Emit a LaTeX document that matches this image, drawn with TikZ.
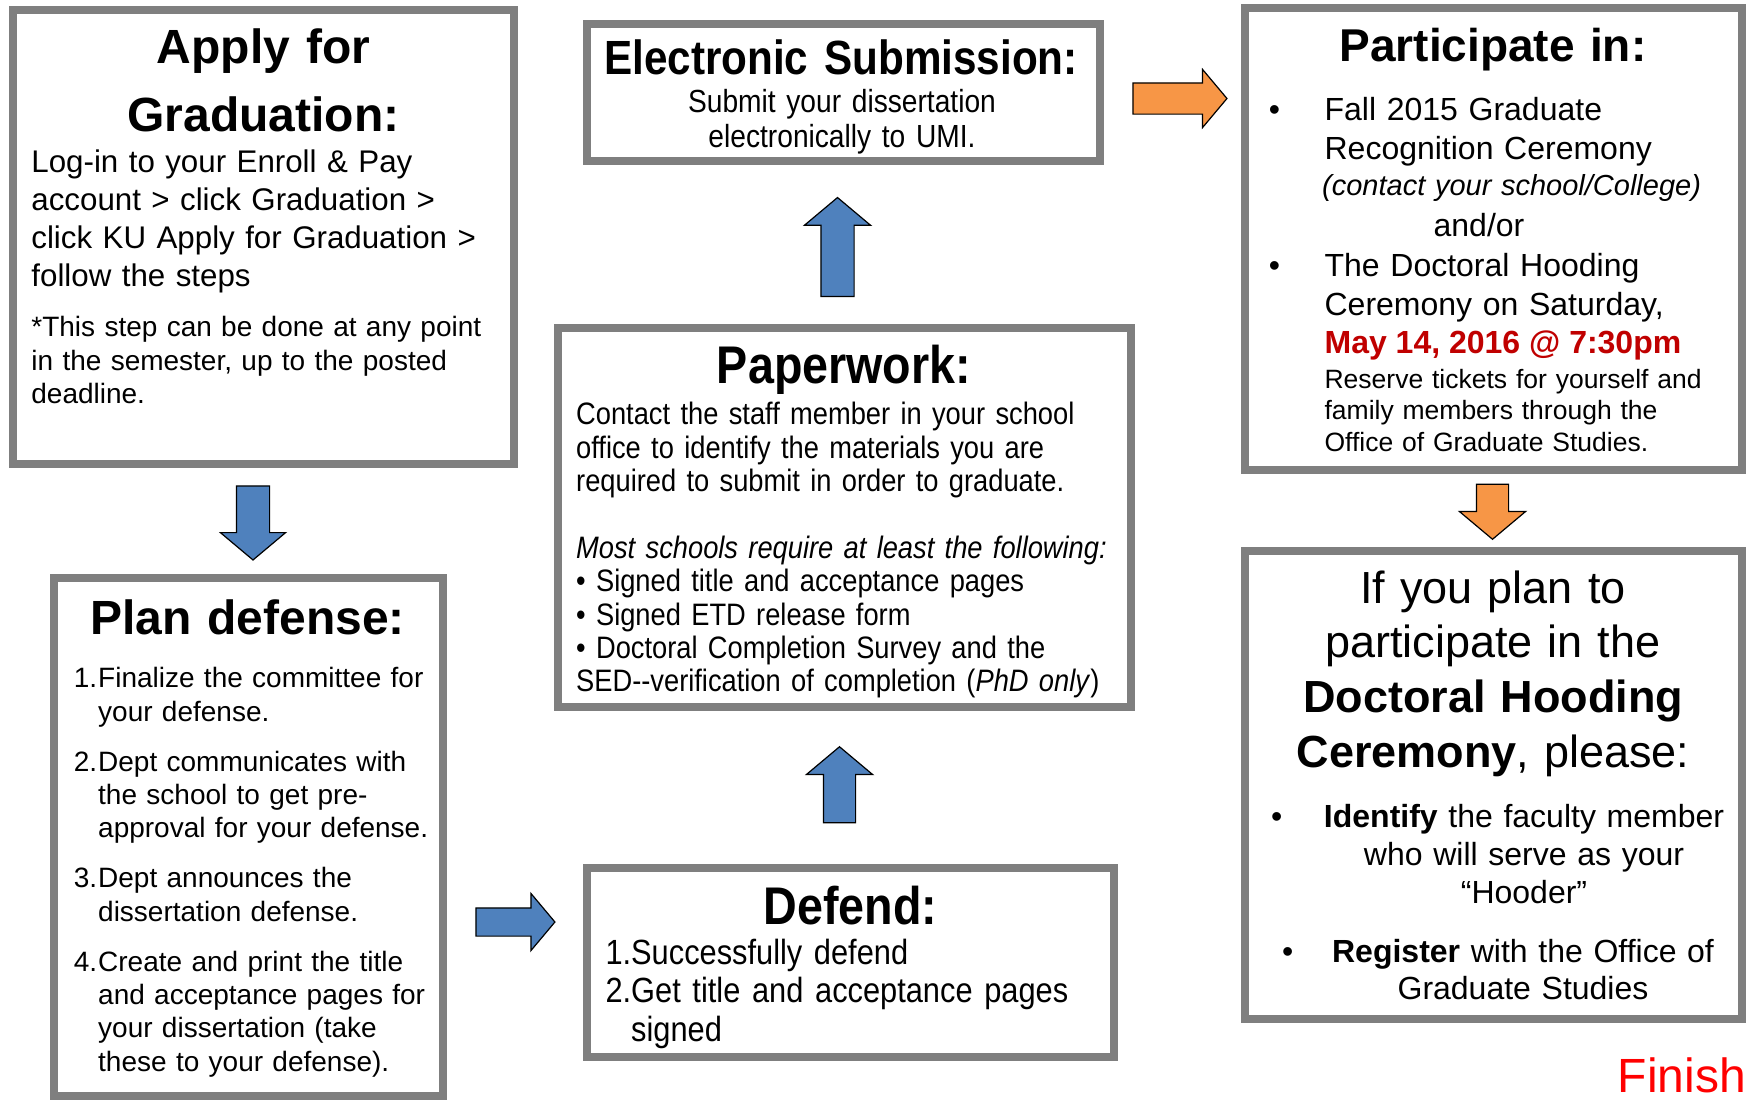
\documentclass[tikz,border=0pt]{standalone}
\usepackage{fontspec}
\setmainfont{Liberation Sans}
\newfontfamily\narrowfont{Liberation Sans}[FakeStretch=0.88]
\usetikzlibrary{shapes.arrows,shadows}
\definecolor{frameGray}{HTML}{7F7F7F}
\definecolor{stepBlue}{HTML}{4F81BD}
\definecolor{stepOrange}{HTML}{F79646}
\definecolor{dateRed}{HTML}{C00000}
\newcommand{\frameW}{8pt}
\newcommand{\numW}{24.4pt}
\newcommand{\fsz}[2]{\fontsize{#1}{#2}\selectfont}
\newcommand{\itemno}[1]{\makebox[\numW][l]{#1}}
\newcommand{\itemgo}{\hspace*{\numW}}
\tikzset{
  stepbox/.style={rectangle, draw=frameGray, line width=\frameW, fill=white, inner sep=0pt},
  lefttxt/.style={inner sep=0pt, anchor=base west, align=left},
  midtxt/.style={inner sep=0pt, anchor=base, align=center},
  flowarrow/.style={single arrow, draw=black, line width=1.2pt, inner xsep=0pt, single arrow tip angle=100, single arrow head indent=0pt},
  bluearrow/.style={flowarrow, fill=stepBlue},
  orangearrow/.style={flowarrow, fill=stepOrange}
}

\begin{document}
\begin{tikzpicture}[x=1pt,y=-1pt]

\fill[white] (0,0) rectangle (1748,1103);
\useasboundingbox (0,0) rectangle (1748,1103);

\node[stepbox, minimum width=501pt, minimum height=454pt] (apply) at (263.5,237) {};
\node[midtxt, text width=480pt, font=\bfseries\fsz{48}{68}] (applyhead) at (263.5,63.5) {Apply for\\Graduation:};
\node[lefttxt, text width=470pt, font=\fsz{31.3}{38}] (applytxt) at (31.2,172.8) {Log-in to your Enroll \& Pay\\account > click Graduation >\\click KU Apply for Graduation >\\follow the steps};
\node[lefttxt, text width=470pt, font=\fsz{28}{33.4}] (applynote) at (31.2,336.7) {*This step can be done at any point\\in the semester, up to the posted\\deadline.};

\node[stepbox, minimum width=389pt, minimum height=518pt, drop shadow={opacity=.25,shadow xshift=2pt,shadow yshift=-2pt}] (plan) at (248.5,837) {};
\node[midtxt, text width=380pt, font=\bfseries\fsz{48}{50}] (planhead) at (247.5,634) {Plan defense:};
\node[lefttxt, text width=365pt, font=\fsz{28}{33.4}] (plantxt) at (73.6,687.8) {\itemno{1.}Finalize the committee for\\\itemgo your defense.\\[16.5pt]\itemno{2.}Dept communicates with\\\itemgo the school to get pre-\\\itemgo approval for your defense.\\[16.5pt]\itemno{3.}Dept announces the\\\itemgo dissertation defense.\\[16.5pt]\itemno{4.}Create and print the title\\\itemgo and acceptance pages for\\\itemgo your dissertation (take\\\itemgo these to your defense).};

\node[stepbox, minimum width=527pt, minimum height=189pt] (defend) at (850.5,962.5) {};
\node[midtxt, text width=500pt, font=\narrowfont\bfseries\fsz{53}{55}] (defendhead) at (850.5,924) {Defend:};
\node[lefttxt, text width=500pt, font=\narrowfont\fsz{35}{38.5}] (defendtxt) at (605.3,964.3) {1.Successfully defend\\2.Get title and acceptance pages\\\phantom{2.}signed};

\node[stepbox, minimum width=573pt, minimum height=379pt] (paper) at (844.5,517.5) {};
\node[midtxt, text width=540pt, font=\narrowfont\bfseries\fsz{53}{55}] (paperhead) at (844,383.5) {Paperwork:};
\node[lefttxt, text width=560pt, font=\narrowfont\fsz{31}{33.4}] (papertxt) at (576,424.7) {Contact the staff member in your school\\office to identify the materials you are\\required to submit in order to graduate.\\[33.4pt]\textit{Most schools require at least the following:}\\\textbullet\ Signed title and acceptance pages\\\textbullet\ Signed ETD release form\\\textbullet\ Doctoral Completion Survey and the\\SED-{}-verification of completion (\textit{PhD only})};

\node[stepbox, minimum width=513pt, minimum height=137pt] (esub) at (843.5,92.5) {};
\node[midtxt, text width=490pt, font=\narrowfont\bfseries\fsz{48}{50}] (esubhead) at (841,74.7) {Electronic Submission:};
\node[midtxt, text width=490pt, font=\narrowfont\fsz{32}{34.6}] (esubtxt) at (842,112.6) {Submit your dissertation\\electronically to UMI.};

\node[stepbox, minimum width=497pt, minimum height=462pt] (part) at (1493.5,239) {};
\node[midtxt, text width=480pt, font=\bfseries\fsz{46}{50}] (parthead) at (1493,61) {Participate in:};
\node[lefttxt, font=\fsz{32}{39}] (partdotA) at (1268.6,120.4) {\textbullet};
\node[lefttxt, text width=400pt, font=\fsz{32}{39}] (partA) at (1324.4,120.4) {Fall 2015 Graduate\\Recognition Ceremony};
\node[lefttxt, text width=410pt, font=\itshape\fsz{29}{33}] (partB) at (1322,195.1) {(contact your school/College)};
\node[midtxt, font=\fsz{32}{39}] (partC) at (1479,236.3) {and/or};
\node[lefttxt, font=\fsz{32}{39}] (partdotB) at (1268.6,276.5) {\textbullet};
\node[lefttxt, text width=400pt, font=\fsz{32}{39}] (partD) at (1324.4,276.5) {The Doctoral Hooding\\Ceremony on Saturday,};
\node[lefttxt, font=\bfseries\fsz{32}{39}, text=dateRed] (partE) at (1324.4,353.4) {May 14, 2016 @ 7:30pm};
\node[lefttxt, text width=410pt, font=\fsz{26.5}{31.7}] (partF) at (1324.4,388) {Reserve tickets for yourself and\\family members through the\\Office of Graduate Studies.};

\node[stepbox, minimum width=497pt, minimum height=468pt] (hood) at (1493.5,785) {};
\node[midtxt, text width=480pt, font=\fsz{45}{54.7}] (hoodhead) at (1493,603) {If you plan to\\participate in the\\\textbf{Doctoral Hooding}\\\textbf{Ceremony}, please:};
\node[lefttxt, font=\fsz{32}{38}] (hooddotA) at (1271,827) {\textbullet};
\node[midtxt, text width=420pt, font=\fsz{32}{38}] (hoodA) at (1524,827) {\textbf{Identify} the faculty member\\who will serve as your\\“Hooder”};
\node[lefttxt, font=\fsz{32}{38}] (hooddotB) at (1282,962) {\textbullet};
\node[midtxt, text width=420pt, font=\fsz{32}{37}] (hoodB) at (1523,962) {\textbf{Register} with the Office of\\Graduate Studies};

\node[lefttxt, anchor=base east, text=red, font=\fsz{48}{50}] (finish) at (1746,1092) {Finish};

\node[bluearrow, rotate=-90, minimum height=74pt, inner ysep=16pt, single arrow head extend=16pt] (downA) at (253,516) {};
\node[bluearrow, minimum height=79pt, inner ysep=13.5pt, single arrow head extend=14.5pt] (rightA) at (509.5,922) {};
\node[bluearrow, rotate=90, minimum height=76pt, inner ysep=15.5pt, single arrow head extend=17pt] (upA) at (839.5,791.5) {};
\node[bluearrow, rotate=90, minimum height=99pt, inner ysep=16pt, single arrow head extend=16.5pt] (upB) at (837.5,254) {};
\node[orangearrow, minimum height=94pt, inner ysep=15pt, single arrow head extend=13.5pt] (rightB) at (1173.4,98.5) {};
\node[orangearrow, rotate=-90, minimum height=55pt, inner ysep=15.5pt, single arrow head extend=17pt] (downB) at (1492.5,505) {};

\end{tikzpicture}
\end{document}
